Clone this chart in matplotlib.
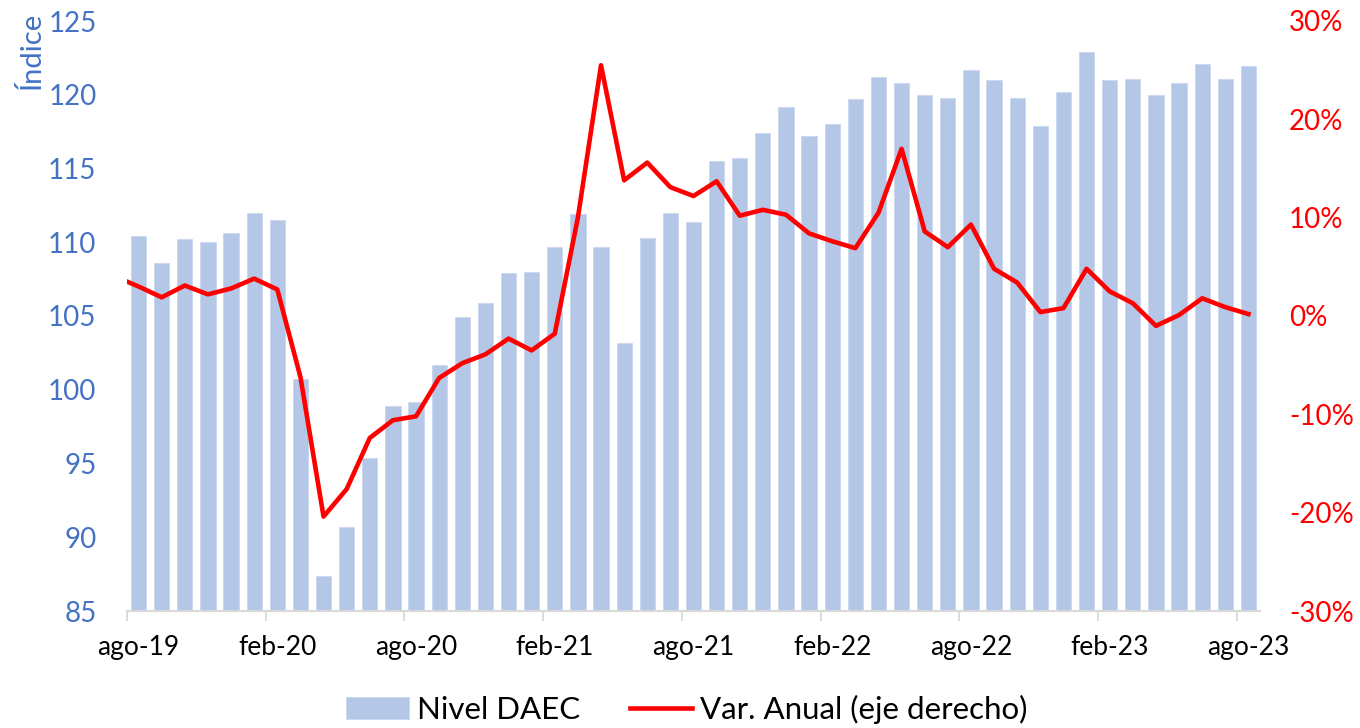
import matplotlib
matplotlib.use("Agg")
import matplotlib.pyplot as plt
from matplotlib.ticker import FixedLocator, FuncFormatter
import numpy as np

plt.rcParams['font.family'] = ['Lato', 'DejaVu Sans']

# ---- data ----
months = ["ago-19","sep-19","oct-19","nov-19","dic-19","ene-20","feb-20","mar-20","abr-20","may-20",
          "jun-20","jul-20","ago-20","sep-20","oct-20","nov-20","dic-20","ene-21","feb-21","mar-21",
          "abr-21","may-21","jun-21","jul-21","ago-21","sep-21","oct-21","nov-21","dic-21","ene-22",
          "feb-22","mar-22","abr-22","may-22","jun-22","jul-22","ago-22","sep-22","oct-22","nov-22",
          "dic-22","ene-23","feb-23","mar-23","abr-23","may-23","jun-23","jul-23","ago-23"]
nivel_daec = [110.4,108.6,110.2,110.0,110.6,112.0,111.5,100.7,87.4,90.7,
              95.4,98.9,99.2,101.7,104.9,105.9,107.9,108.0,109.7,111.9,
              109.7,103.15,110.3,112.0,111.35,115.5,115.7,117.4,119.15,117.2,
              118.0,119.7,121.2,120.8,120.0,119.8,121.65,121.0,119.8,117.9,
              120.2,122.9,121.0,121.1,120.0,120.8,122.1,121.1,121.95]
# annual variation (%), first value corresponds to jul-19 (partly outside the plot)
var_anual = [4.0,
             3.0,1.9,3.1,2.2,2.8,3.8,2.7,-6.2,-20.4,-17.6,
             -12.4,-10.6,-10.2,-6.3,-4.8,-3.9,-2.3,-3.5,-1.8,10.0,
             25.5,13.8,15.6,13.1,12.2,13.7,10.2,10.8,10.3,8.4,
             7.6,6.9,10.5,17.0,8.6,7.0,9.3,4.8,3.4,0.4,
             0.8,4.8,2.5,1.3,-1.0,0.1,1.8,0.9,0.2]
tick_labels = ["ago-19","feb-20","ago-20","feb-21","ago-21","feb-22","ago-22","feb-23","ago-23"]
left_ticks = [85, 90, 95, 100, 105, 110, 115, 120, 125]
right_ticks = [-30, -20, -10, 0, 10, 20, 30]

BAR = "#B4C7E7"
BLUE = "#4472C4"
RED = "#FF0000"

fig = plt.figure(figsize=(13.6, 7.28), dpi=100)
ax = fig.add_axes([127/1360, 1-611/728, (1260-127)/1360, (611-21)/728])
x = np.arange(len(months))
bars = ax.bar(x, nivel_daec, width=0.66, color=BAR, edgecolor="#C9D7EE", linewidth=0.6,
              label="Nivel DAEC", zorder=2)
ax.set_ylim(85, 125)
ax.set_xlim(-0.5, len(months) - 0.5)
ax.set_yticks(left_ticks)
ax.tick_params(axis='y', length=0, pad=22, labelsize=20, labelcolor=BLUE)

label_pos = [months.index(t) for t in tick_labels]
ax.set_xticks(label_pos)
ax.set_xticklabels(tick_labels)
ax.xaxis.set_minor_locator(FixedLocator([p - 0.5 for p in label_pos]))
ax.tick_params(axis='x', which='major', length=0, pad=17, labelsize=19, labelcolor="#000000")
ax.tick_params(axis='x', which='minor', length=7, width=1.3, color="#D9D9D9")
for s in ['top', 'left', 'right']:
    ax.spines[s].set_visible(False)
ax.spines['bottom'].set_color("#D9D9D9")
ax.spines['bottom'].set_linewidth(1.5)

ax2 = ax.twinx()
xl = np.arange(-1, len(months))
line, = ax2.plot(xl, var_anual, color=RED, linewidth=3.3, solid_joinstyle='round',
                 label="Var. Anual (eje derecho)", zorder=3)
ax2.set_ylim(-30, 30)
ax2.set_yticks(right_ticks)
ax2.yaxis.set_major_formatter(FuncFormatter(lambda v, p: f"{v:.0f}%"))
ax2.tick_params(axis='y', length=0, pad=21, labelsize=20, labelcolor=RED)
for s in ['top', 'left', 'right', 'bottom']:
    ax2.spines[s].set_visible(False)
ax2.set_xlim(-0.5, len(months) - 0.5)

fig.text(31/1360, 1-12/728, "Índice", rotation=90, color=BLUE, fontsize=21,
         ha='center', va='top')

fig.legend(handles=[bars, line], labels=["Nivel DAEC", "Var. Anual (eje derecho)"],
           loc='lower center', bbox_to_anchor=(0.505, -0.033), ncol=2, frameon=False,
           fontsize=22.5, handlelength=2.0, handleheight=0.7, handletextpad=0.25,
           columnspacing=1.6)

fig.savefig("out.png", dpi=100)
